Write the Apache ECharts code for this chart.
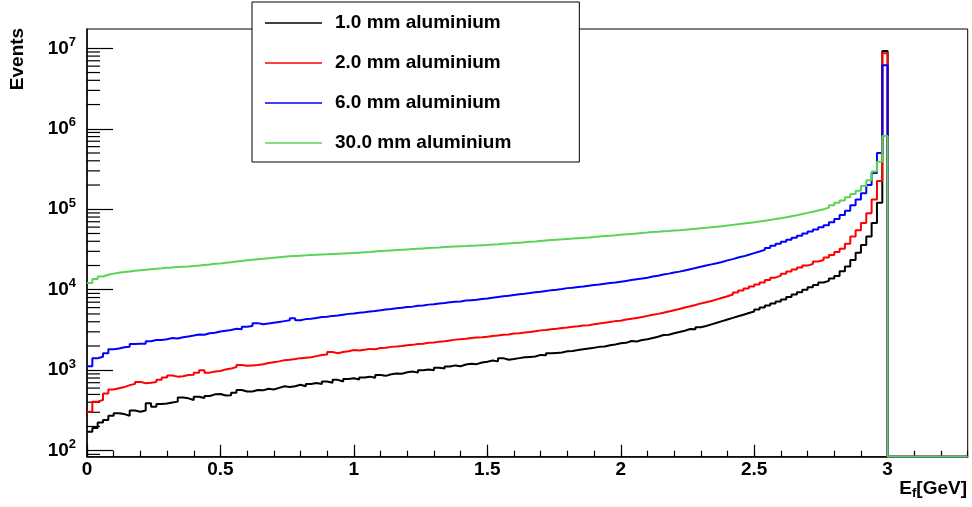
<!DOCTYPE html>
<html>
<head>
<meta charset="utf-8">
<script src="https://cdn.jsdelivr.net/npm/echarts@6/dist/echarts.min.js"></script>
<style>
html,body{margin:0;padding:0;background:#fff;}
#c{width:972px;height:507px;}
</style>
</head>
<body>
<div id="c"></div>
<script>
// ---- data (Events per 0.02 GeV bin, bins from 0 to 3.0 GeV; bins above 3.0 GeV are empty) ----
const binWidth = 0.02;
const seriesNames = ['1.0 mm aluminium', '2.0 mm aluminium', '6.0 mm aluminium', '30.0 mm aluminium'];

const black1mm = [172,191,224,240,272,292,285,272,316,305,
316,389,351,380,385,398,407,457,447,427,
468,452,479,501,507,484,490,525,569,543,
543,569,562,589,575,603,631,617,631,661,
631,676,692,676,724,700,759,724,776,794,
767,813,832,804,871,851,891,912,902,944,
966,933,1000,1023,1000,1072,1047,1109,1148,1122,
1175,1202,1189,1245,1274,1318,1288,1413,1349,1380,
1413,1445,1462,1479,1549,1531,1622,1641,1660,1718,
1738,1778,1820,1862,1905,1950,1972,2042,2089,2163,
2188,2310,2270,2371,2427,2512,2600,2740,2760,2884,
2985,3090,3250,3230,3428,3548,3715,3890,4074,4266,
4467,4677,4898,5129,5370,5689,6026,6383,6761,7161,
7586,8128,8710,9333,10000,10720,11480,12300,12880,13800,
14790,16980,19500,23440,28840,35890,45710,67610,120200,9250000];

const red2mm = [305,407,427,513,575,596,617,653,676,716,
687,700,716,759,813,861,832,841,871,881,
933,1000,933,966,977,1023,1047,1096,1161,1135,
1148,1161,1189,1230,1259,1288,1334,1349,1380,1413,
1429,1445,1496,1549,1567,1679,1622,1679,1718,1778,
1758,1799,1841,1820,1884,1905,1950,1972,1995,2042,
2065,2113,2138,2188,2213,2265,2291,2344,2399,2427,
2455,2512,2541,2570,2600,2661,2692,2754,2786,2851,
2884,2951,2985,3055,3126,3162,3236,3273,3350,3388,
3467,3508,3589,3631,3715,3802,3890,3981,4074,4121,
4266,4365,4467,4571,4732,4898,5012,5188,5370,5559,
5754,6026,6237,6457,6761,6998,7244,7586,7943,8318,
8710,9226,9772,10350,10960,11610,12300,13180,14130,14960,
15850,16790,17780,18840,19950,20890,22390,23440,25120,26920,
29510,32360,37150,45710,54950,67610,89130,131800,223900,8670000];

const blue6mm = [1122,1406,1472,1622,1820,1862,1928,1950,2113,2138,
2138,2291,2371,2371,2427,2512,2483,2570,2630,2692,
2786,2754,2884,2917,3020,3090,3162,3273,3236,3467,
3548,3846,3715,3802,3890,3981,4074,4169,4416,4169,
4315,4365,4467,4571,4624,4732,4786,4898,5012,5070,
5188,5248,5370,5433,5559,5689,5754,5888,5957,6095,
6166,6310,6383,6531,6607,6761,6839,6998,7079,7161,
7328,7413,7499,7674,7762,7943,8128,8318,8414,8610,
8810,8913,9120,9333,9441,9661,9886,10000,10230,10470,
10590,10840,10960,11220,11480,11610,11890,12160,12300,12590,
12880,13180,13490,13800,14130,14620,14960,15490,15850,16410,
16790,17380,17990,18620,19280,19950,20650,21380,22130,23170,
23990,25120,26000,27230,28510,29850,31260,33110,35080,37150,
39360,41690,44160,46770,50120,53090,56230,59570,63100,69180,
75860,85110,95500,112200,131800,158500,199500,281800,501200,6170000];

const green30mm = [12100,13580,14620,15350,15850,16220,16600,16900,17220,17460,
17700,17950,18200,18450,18710,18920,19140,19320,19500,19720,
19950,20320,20650,21040,21230,21630,21980,22390,22750,23170,
23550,23990,24320,24660,25000,25350,25700,26000,26240,26490,
26730,26980,27160,27350,27540,27800,27990,28180,28380,28580,
28910,29240,29510,29850,30200,30550,30830,31120,31410,31700,
31990,32280,32580,32890,33190,33500,33880,34200,34510,34750,
34990,35240,35480,35730,35970,36390,36810,37240,37670,38020,
38460,38900,39360,39810,40360,40930,41400,41880,42270,42760,
43250,43750,44260,44670,45190,45810,46450,46990,47530,48190,
48750,49430,50120,50820,51520,52240,52720,53330,53830,54450,
54950,55590,56360,57150,58080,58880,59840,60810,61660,62810,
63970,65160,66370,67610,68870,70470,72110,73790,75510,77450,
79430,81850,84330,87100,90160,93330,96610,100000,104700,112200,
120200,128800,141300,154900,169800,195000,229100,295100,389000,812800];

const xTickLabels = ['0', '0.5', '1', '1.5', '2', '2.5', '3'];
const yDecadeExponents = [2, 3, 4, 5, 6, 7];
const yMinorTicks = [90,
  200,300,400,500,600,700,800,900,
  2000,3000,4000,5000,6000,7000,8000,9000,
  20000,30000,40000,50000,60000,70000,80000,90000,
  200000,300000,400000,500000,600000,700000,800000,900000,
  2000000,3000000,4000000,5000000,6000000,7000000,8000000,9000000];

// ---- chart ----
const FONT = "'Liberation Sans', Arial, Helvetica, sans-serif";
const X_MAX = 3.3, Y_MIN = 84.2, Y_MAX = 1.737e7;
const colors = ['#000000', '#ff0000', '#0000ff', '#59d454'];
const allSeries = [black1mm, red2mm, blue6mm, green30mm];

function histPoints(vals) {
  const pts = vals.map((v, i) => [Math.round(i * binWidth * 1000) / 1000, v]);
  const end = Math.round(vals.length * binWidth * 1000) / 1000;
  // empty bins above the last filled one sit on the frame floor (log scale)
  pts.push([end, Y_MIN]);
  pts.push([X_MAX, Y_MIN]);
  return pts;
}

const series = allSeries.map((vals, k) => ({
  name: seriesNames[k],
  type: 'line',
  step: 'end',
  data: histPoints(vals),
  symbol: 'none',
  lineStyle: { color: colors[k], width: 2 },
  itemStyle: { color: colors[k] },
  z: 3 + k,
  animation: false
}));

series.push({
  type: 'custom',
  name: 'yMinor',
  silent: true,
  animation: false,
  z: 2,
  data: yMinorTicks.map(v => [0, v]),
  renderItem: function (params, api) {
    const p = api.coord([api.value(0), api.value(1)]);
    return {
      type: 'line',
      shape: { x1: p[0], y1: p[1], x2: p[0] + 13, y2: p[1] },
      style: { stroke: '#000', lineWidth: 1.2 }
    };
  }
});

const tickLine = { color: '#000', width: 1.2 };

const option = {
  animation: false,
  backgroundColor: '#ffffff',
  grid: {
    left: 87, right: 4.3, top: 29, bottom: 50.3,
    show: true, borderColor: '#000', borderWidth: 1,
    backgroundColor: 'transparent',
    outerBoundsMode: 'none'
  },
  legend: {
    data: seriesNames,
    orient: 'vertical',
    left: 252, top: 2,
    padding: [11, 68, 9, 13],
    itemGap: 20,
    itemWidth: 57,
    itemHeight: 1.6,
    icon: 'rect',
    backgroundColor: '#fff',
    borderColor: '#000',
    borderWidth: 1,
    selectedMode: false,
    textStyle: {
      fontSize: 19, fontWeight: 'bold', color: '#000', fontFamily: FONT,
      lineHeight: 20, padding: [0, 0, 0, 8]
    }
  },
  xAxis: [
    {
      type: 'value', min: 0, max: X_MAX, interval: 0.5,
      axisLine: { show: true, onZero: false, lineStyle: { color: '#000', width: 1.5 } },
      axisTick: { inside: true, length: 12, lineStyle: tickLine },
      axisLabel: {
        showMaxLabel: false, margin: 4, color: '#000',
        fontSize: 19, fontWeight: 'bold', fontFamily: FONT,
        formatter: v => {
          const i = Math.round(v / 0.5);
          return Math.abs(i * 0.5 - v) < 1e-6 && i < xTickLabels.length ? xTickLabels[i] : '';
        }
      },
      splitLine: { show: false }
    },
    {
      type: 'value', min: 0, max: X_MAX, interval: 0.1, position: 'bottom',
      axisLine: { show: false, onZero: false },
      axisTick: { inside: true, length: 6, lineStyle: tickLine },
      axisLabel: { show: false },
      splitLine: { show: false }
    }
  ],
  yAxis: {
    type: 'log', logBase: 10, min: Y_MIN, max: Y_MAX,
    axisLine: { show: true, lineStyle: { color: '#000', width: 1.5 } },
    axisTick: { inside: true, length: 26, lineStyle: tickLine },
    minorTick: { show: false },
    splitLine: { show: false },
    axisLabel: {
      showMinLabel: false, showMaxLabel: false,
      margin: 11, color: '#000',
      formatter: v => {
        const e = Math.round(Math.log10(v));
        if (!yDecadeExponents.includes(e) || Math.abs(v - Math.pow(10, e)) / v > 1e-6) return '';
        return '{b|10}{s|' + e + '}';
      },
      rich: {
        b: { fontSize: 19, fontWeight: 'bold', fontFamily: FONT, color: '#000' },
        s: { fontSize: 13, fontWeight: 'bold', fontFamily: FONT, color: '#000', padding: [0, 0, 12, 0] }
      }
    }
  },
  graphic: [
    {
      type: 'text', x: 17.5, y: 59, rotation: Math.PI / 2,
      style: {
        text: 'Events', fill: '#000',
        font: 'bold 19px ' + FONT,
        align: 'center', verticalAlign: 'middle',
        textAlign: 'center', textVerticalAlign: 'middle'
      }
    },
    {
      type: 'text', x: 967, y: 489,
      style: {
        text: '{a|E}{f|f}{a|[GeV]}', fill: '#000',
        align: 'right', verticalAlign: 'middle',
        textAlign: 'right', textVerticalAlign: 'middle',
        rich: {
          a: { fontSize: 19, fontWeight: 'bold', fontFamily: FONT, color: '#000' },
          f: { fontSize: 13, fontWeight: 'bold', fontFamily: FONT, color: '#000', padding: [9, 0, 0, 0] }
        }
      }
    }
  ],
  series: series
};

const chart = echarts.init(document.getElementById('c'), null, { renderer: 'canvas' });
chart.setOption(option);
</script>
</body>
</html>
